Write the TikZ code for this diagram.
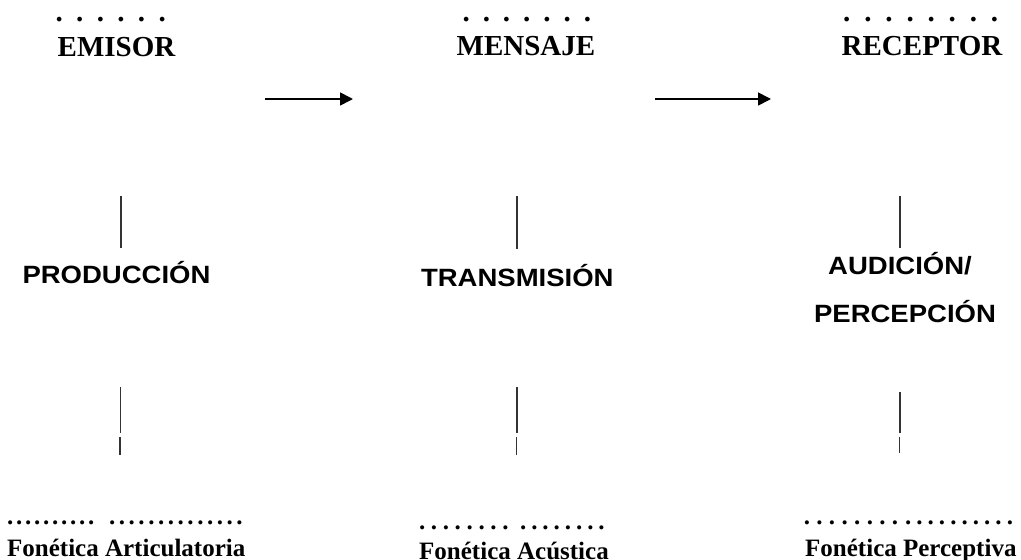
\documentclass[tikz,border=0pt]{standalone}
\usepackage{fontspec}
\setmainfont{Liberation Serif}
\newfontfamily\labsans[FakeStretch=1.1]{Liberation Sans}
\usetikzlibrary{arrows.meta}
\newcommand\mydotrow[2]{\foreach \i in {1,...,#1}{\makebox[#2]{.}}}
\begin{document}
\begin{tikzpicture}[x=1pt,y=-1pt,
  title/.style={font=\fontsize{29}{34}\selectfont\bfseries, anchor=base, inner sep=0pt},
  topdots/.style={font=\fontsize{29}{34}\selectfont\bfseries, anchor=base west, inner sep=0pt},
  proc/.style={font=\labsans\fontsize{25}{30}\selectfont\bfseries, anchor=base, inner sep=0pt},
  field/.style={font=\fontsize{25}{30}\selectfont\bfseries, anchor=base west, inner sep=0pt},
  lowdots/.style={font=\fontsize{25}{30}\selectfont\bfseries, anchor=base west, inner sep=0pt},
  vline/.style={line width=1.3pt, draw=black!80},
  flow/.style={line width=1.7pt, draw=black, -{Triangle[length=13pt,width=13pt]}}]
\useasboundingbox[fill=white] (0,0) rectangle (1021,560);

% headings
\node[topdots] (emid) at (48.7,21) {\mydotrow{6}{20.6pt}};
\node[title] (emi) at (116.5,56) {EMISOR};
\node[topdots] (mend) at (455.9,21) {\mydotrow{7}{20.2pt}};
\node[title] (men) at (526,55) {MENSAJE};
\node[topdots] (recd) at (836.1,21) {\mydotrow{8}{21.1pt}};
\node[title] (rec) at (922,55) {RECEPTOR};

% arrows
\coordinate (a1s) at (265,99);
\coordinate (a1e) at (353,99);
\coordinate (a2s) at (655,99);
\coordinate (a2e) at (771,99);
\draw[flow] (a1s) -- (a1e);
\draw[flow] (a2s) -- (a2e);

% middle labels
\node[proc] (prod) at (116.5,283) {PRODUCCIÓN};
\node[proc] (trans) at (517.3,286) {TRANSMISIÓN};
\node[proc] (aud) at (900,274) {AUDICIÓN/};
\node[proc] (perc) at (905,322) {PERCEPCIÓN};

% vertical strokes
\coordinate (l1a) at (121,196); \coordinate (l1b) at (121,248);
\coordinate (l1c) at (120.5,387); \coordinate (l1d) at (120.5,433);
\coordinate (l1e) at (120,437); \coordinate (l1f) at (120,455);
\coordinate (l2a) at (517,196); \coordinate (l2b) at (517,249);
\coordinate (l2c) at (517,387); \coordinate (l2d) at (517,433);
\coordinate (l2e) at (516.5,437); \coordinate (l2f) at (516.5,455);
\coordinate (l3a) at (900,196); \coordinate (l3b) at (900,248);
\coordinate (l3c) at (900,392); \coordinate (l3d) at (900,433);
\coordinate (l3e) at (899.5,437); \coordinate (l3f) at (899.5,453);
\draw[vline] (l1a) -- (l1b); \draw[vline] (l1c) -- (l1d); \draw[vline] (l1e) -- (l1f);
\draw[vline] (l2a) -- (l2b); \draw[vline] (l2c) -- (l2d); \draw[vline] (l2e) -- (l2f);
\draw[vline] (l3a) -- (l3b); \draw[vline] (l3c) -- (l3d); \draw[vline] (l3e) -- (l3f);

% bottom dotted rows
\node[lowdots] (fad1) at (5.5,524) {\mydotrow{10}{9pt}};
\node[lowdots] (fad2) at (107.1,524) {\mydotrow{14}{9.8pt}};
\node[lowdots] (facd1) at (416,529) {\mydotrow{8}{11.9pt}};
\node[lowdots] (facd2) at (517.4,529) {\mydotrow{8}{11.2pt}};
\node[lowdots] (fpd1) at (800.4,524) {\mydotrow{8}{12.6pt}};
\node[lowdots] (fpd2) at (902.35,524) {\mydotrow{10}{11.3pt}};

% bottom fields
\node[field] (fa) at (7,556) {Fonética Articulatoria};
\node[field] (fac) at (419,559) {Fonética Acústica};
\node[field] (fp) at (805,556) {Fonética Perceptiva};
\end{tikzpicture}
\end{document}
